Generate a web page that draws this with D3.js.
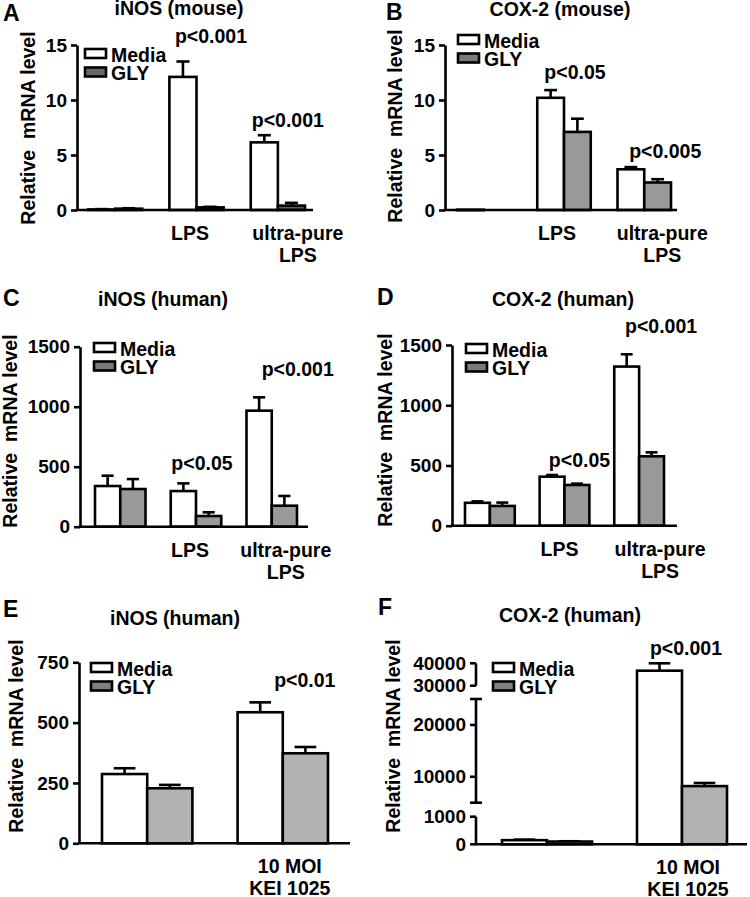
<!DOCTYPE html>
<html><head><meta charset="utf-8">
<script src="https://cdn.jsdelivr.net/npm/d3@7"></script>
<style>
html,body{margin:0;padding:0;background:#fff;}
svg{display:block;font-family:"Liberation Sans",Arial,Helvetica,sans-serif;font-weight:bold;}
</style></head><body>
<svg id="fig" width="750" height="897"></svg>
<script>
// ---------------- DATA ----------------
const seriesNames = ["Media", "GLY"];
const yAxisTitle = "Relative  mRNA level";

// A: iNOS (mouse)
const aCategories = ["Control", "LPS", "ultra-pure LPS"];
const aLabels = ["", "LPS", "ultra-pure\nLPS"];
const aMedia = [0.05, 12.1, 6.15];
const aMediaErr = [0.03, 1.4, 0.65];
const aGly = [0.12, 0.24, 0.4];
const aGlyErr = [0.04, 0.05, 0.25];
const aTicks = [0, 5, 10, 15];
const aPText = ["", "p<0.001", "p<0.001"];
const aPAt = [null, 15.18, 7.55];

// B: COX-2 (mouse)
const bCategories = ["Control", "LPS", "ultra-pure LPS"];
const bLabels = ["", "LPS", "ultra-pure\nLPS"];
const bMedia = [0.03, 10.2, 3.7];
const bMediaErr = [0, 0.7, 0.2];
const bGly = [0, 7.1, 2.5];
const bGlyErr = [0, 1.2, 0.3];
const bTicks = [0, 5, 10, 15];
const bPText = ["", "p<0.05", "p<0.005"];
const bPAt = [null, 11.9, 4.73];

// C: iNOS (human)
const cCategories = ["Control", "LPS", "ultra-pure LPS"];
const cLabels = ["", "LPS", "ultra-pure\nLPS"];
const cMedia = [339, 297, 967];
const cMediaErr = [86, 64, 111];
const cGly = [314, 89, 175];
const cGlyErr = [83, 31, 81];
const cTicks = [0, 500, 1000, 1500];
const cPText = ["", "p<0.05", "p<0.001"];
const cPAt = [null, 472, 1256];

// D: COX-2 (human)
const dCategories = ["Control", "LPS", "ultra-pure LPS"];
const dLabels = ["", "LPS", "ultra-pure\nLPS"];
const dMedia = [190, 407, 1321];
const dMediaErr = [12, 14, 102];
const dGly = [164, 338, 576];
const dGlyErr = [28, 11, 33];
const dTicks = [0, 500, 1000, 1500];
const dPText = ["", "p<0.05", "p<0.001"];
const dPAt = [null, 488, 1600];

// E: iNOS (human), KEI 1025
const eCategories = ["Control", "10 MOI KEI 1025"];
const eLabels = ["", "10 MOI\nKEI 1025"];
const eMedia = [287, 543];
const eMediaErr = [24, 41];
const eGly = [228, 373];
const eGlyErr = [14, 26];
const eTicks = [0, 250, 500, 750];
const ePText = ["", "p<0.01"];
const ePAt = [null, 646];

// F: COX-2 (human), KEI 1025 (broken axis)
const fCategories = ["Control", "10 MOI KEI 1025"];
const fLabels = ["", "10 MOI\nKEI 1025"];
const fMedia = [150, 36700];
const fMediaErr = [20, 3300];
const fGly = [100, 8200];
const fGlyErr = [10, 600];
const fTicks = [0, 1000, 10000, 20000, 30000, 40000];
const fSegments = [[0, 1000], [5000, 25000], [30000, 40000]];
const fBreakCaps = [5000, 25000];
const fPText = ["", "p<0.001"];
const fPAt = [null, 43700];

// ---------------- LAYOUT ----------------
const panels = [
  {letter:"A", title:"iNOS (mouse)", cats:aCategories, labels:aLabels, media:aMedia, mediaErr:aMediaErr, gly:aGly, glyErr:aGlyErr,
   ticks:aTicks, pText:aPText, pAt:aPAt, pDx:[0,14.5,10], labelDx:[0,-6.5,20],
   yDomain:[0,15], yRange:[210,45], barRange:[88,305], axisX:77, xEnd:313,
   glyFill:"#5e5e5e", glyLegend:"#6a6a6a", legend:[85,49], letterPos:[3,21], titlePos:[179,15], yTitlePos:[35,128]},
  {letter:"B", title:"COX-2 (mouse)", cats:bCategories, labels:bLabels, media:bMedia, mediaErr:bMediaErr, gly:bGly, glyErr:bGlyErr,
   ticks:bTicks, pText:bPText, pAt:bPAt, pDx:[0,11,21], labelDx:[0,-7,18],
   yDomain:[0,15], yRange:[210,45], barRange:[457,671], axisX:445, xEnd:677,
   glyFill:"#999999", glyLegend:"#7a7a7a", legend:[458,35], letterPos:[386,20], titlePos:[560,16], yTitlePos:[402,126]},
  {letter:"C", title:"iNOS (human)", cats:cCategories, labels:cLabels, media:cMedia, mediaErr:cMediaErr, gly:cGly, glyErr:cGlyErr,
   ticks:cTicks, pText:cPText, pAt:cPAt, pDx:[0,6,26], labelDx:[0,-6,14],
   yDomain:[0,1500], yRange:[526.7,346.7], barRange:[95,297], axisX:80, xEnd:308,
   glyFill:"#999999", glyLegend:"#7a7a7a", legend:[94,343], letterPos:[3,306], titlePos:[163,306], yTitlePos:[17,431]},
  {letter:"D", title:"COX-2 (human)", cats:dCategories, labels:dLabels, media:dMedia, mediaErr:dMediaErr, gly:dGly, glyErr:dGlyErr,
   ticks:dTicks, pText:dPText, pAt:dPAt, pDx:[0,15,22], labelDx:[0,-5,21],
   yDomain:[0,1500], yRange:[525.7,345], barRange:[465,664], axisX:452, xEnd:677,
   glyFill:"#999999", glyLegend:"#7a7a7a", legend:[466,344], letterPos:[377,305], titlePos:[563,306], yTitlePos:[392,430]},
  {letter:"E", title:"iNOS (human)", cats:eCategories, labels:eLabels, media:eMedia, mediaErr:eMediaErr, gly:eGly, glyErr:eGlyErr,
   ticks:eTicks, pText:ePText, pAt:ePAt, pDx:[0,22], labelDx:[0,7],
   yDomain:[0,750], yRange:[843.3,662.3], barRange:[102,328], axisX:79, xEnd:350,
   glyFill:"#b2b2b2", glyLegend:"#7f7f7f", legend:[91,663], letterPos:[3,617], titlePos:[175,625], yTitlePos:[23,736]},
  {letter:"F", title:"COX-2 (human)", cats:fCategories, labels:fLabels, media:fMedia, mediaErr:fMediaErr, gly:fGly, glyErr:fGlyErr,
   ticks:fTicks, pText:fPText, pAt:fPAt, pDx:[0,4], labelDx:[0,6],
   yDomain:[0,1000,5000,25000,30000,40000,45000], yRange:[844.3,816.7,802.7,699,685.7,663.3,652.1],
   segments:fSegments, breakCaps:fBreakCaps,
   barRange:[502,727], axisX:476, xEnd:747,
   glyFill:"#b2b2b2", glyLegend:"#7f7f7f", legend:[493,663], letterPos:[378,615], titlePos:[570,622], yTitlePos:[400,736]}
];

// ---------------- DRAW ----------------
const svg = d3.select("#fig");
const SW = 2.6;
const FS = 19.5;

function drawPanel(p) {
  const g = svg.append("g");
  const y = d3.scaleLinear().domain(p.yDomain).range(p.yRange);
  const x = d3.scaleBand().domain(p.cats).range(p.barRange).paddingInner(1/3).paddingOuter(0);
  const xs = d3.scaleBand().domain(seriesNames).range([0, x.bandwidth()]);
  const y0 = y(0);
  const fills = {Media:"#ffffff", GLY:p.glyFill};

  const rows = [];
  p.cats.forEach((c, i) => {
    rows.push({c, s:"Media", v:p.media[i], e:p.mediaErr[i]});
    rows.push({c, s:"GLY", v:p.gly[i], e:p.glyErr[i]});
  });

  // error bars
  const eg = g.append("g").attr("stroke", "#000").attr("stroke-width", SW).attr("fill", "none");
  rows.filter(d => d.e > 0).forEach(d => {
    const cx = x(d.c) + xs(d.s) + xs.bandwidth() / 2;
    const cw = xs.bandwidth() * 0.48;
    eg.append("line").attr("x1", cx).attr("x2", cx).attr("y1", y(d.v)).attr("y2", y(d.v + d.e));
    eg.append("line").attr("x1", cx - cw/2).attr("x2", cx + cw/2).attr("y1", y(d.v + d.e)).attr("y2", y(d.v + d.e));
  });

  // bars
  g.append("g").selectAll("rect").data(rows.filter(d => d.v > 0)).join("rect")
    .attr("x", d => x(d.c) + xs(d.s))
    .attr("width", xs.bandwidth())
    .attr("y", d => y(d.v))
    .attr("height", d => Math.max(0.5, y0 - y(d.v)))
    .attr("fill", d => fills[d.s])
    .attr("stroke", "#000").attr("stroke-width", SW);

  // y axis
  if (!p.segments) {
    const ax = g.append("g").attr("transform", `translate(${p.axisX},0)`)
      .call(d3.axisLeft(y).tickValues(p.ticks).tickSize(6).tickSizeOuter(0).tickPadding(4).tickFormat(d3.format("d")));
    ax.select(".domain").attr("stroke-width", SW);
    ax.selectAll(".tick line").attr("stroke-width", SW);
    ax.selectAll(".tick text").attr("font-size", 19).attr("font-weight", "bold").attr("font-family", null).attr("fill", "#000");
  } else {
    const ag = g.append("g").attr("stroke", "#000").attr("stroke-width", SW);
    p.segments.forEach(s => {
      ag.append("line").attr("x1", p.axisX).attr("x2", p.axisX).attr("y1", y(s[0])).attr("y2", y(s[1]));
    });
    p.ticks.forEach(t => {
      ag.append("line").attr("x1", p.axisX - 6).attr("x2", p.axisX).attr("y1", y(t)).attr("y2", y(t));
    });
    p.breakCaps.forEach(t => {
      ag.append("line").attr("x1", p.axisX - 6).attr("x2", p.axisX + 6).attr("y1", y(t)).attr("y2", y(t));
    });
    g.append("g").selectAll("text").data(p.ticks).join("text")
      .attr("x", p.axisX - 10).attr("y", d => y(d)).attr("dy", "0.34em")
      .attr("text-anchor", "end").attr("font-size", 19).text(d3.format("d"));
  }

  // x axis line
  g.append("line").attr("x1", p.axisX - SW/2).attr("x2", p.xEnd).attr("y1", y0).attr("y2", y0)
    .attr("stroke", "#000").attr("stroke-width", SW);

  // category labels
  p.cats.forEach((c, i) => {
    const lines = p.labels[i] ? p.labels[i].split("\n") : [];
    if (!lines.length) return;
    const t = g.append("text").attr("text-anchor", "middle").attr("font-size", FS);
    lines.forEach((ln, k) => {
      t.append("tspan").attr("x", x(c) + x.bandwidth()/2 + p.labelDx[i]).attr("y", y0 + 30 + k * 22).text(ln);
    });
  });

  // p-values
  p.cats.forEach((c, i) => {
    if (!p.pText[i]) return;
    g.append("text").attr("text-anchor", "middle").attr("font-size", FS)
      .attr("x", x(c) + x.bandwidth()/2 + p.pDx[i]).attr("y", y(p.pAt[i])).text(p.pText[i]);
  });

  // legend
  const lg = g.append("g").attr("transform", `translate(${p.legend[0]},${p.legend[1]})`);
  seriesNames.forEach((s, k) => {
    lg.append("rect").attr("x", 0).attr("y", k * 18.5).attr("width", 21).attr("height", 9)
      .attr("fill", s === "Media" ? "#fff" : p.glyLegend).attr("stroke", "#000").attr("stroke-width", SW);
    lg.append("text").attr("x", 26).attr("y", k * 18.5 + 12.5).attr("font-size", FS).text(s);
  });

  // title, letter, y-axis title
  g.append("text").attr("x", p.titlePos[0]).attr("y", p.titlePos[1]).attr("text-anchor", "middle")
    .attr("font-size", FS).text(p.title);
  g.append("text").attr("x", p.letterPos[0]).attr("y", p.letterPos[1]).attr("font-size", 23).text(p.letter);
  g.append("text").attr("transform", `translate(${p.yTitlePos[0]},${p.yTitlePos[1]}) rotate(-90)`)
    .attr("text-anchor", "middle").attr("font-size", FS).style("white-space", "pre").text(yAxisTitle);
}

panels.forEach(drawPanel);
</script>
</body></html>
